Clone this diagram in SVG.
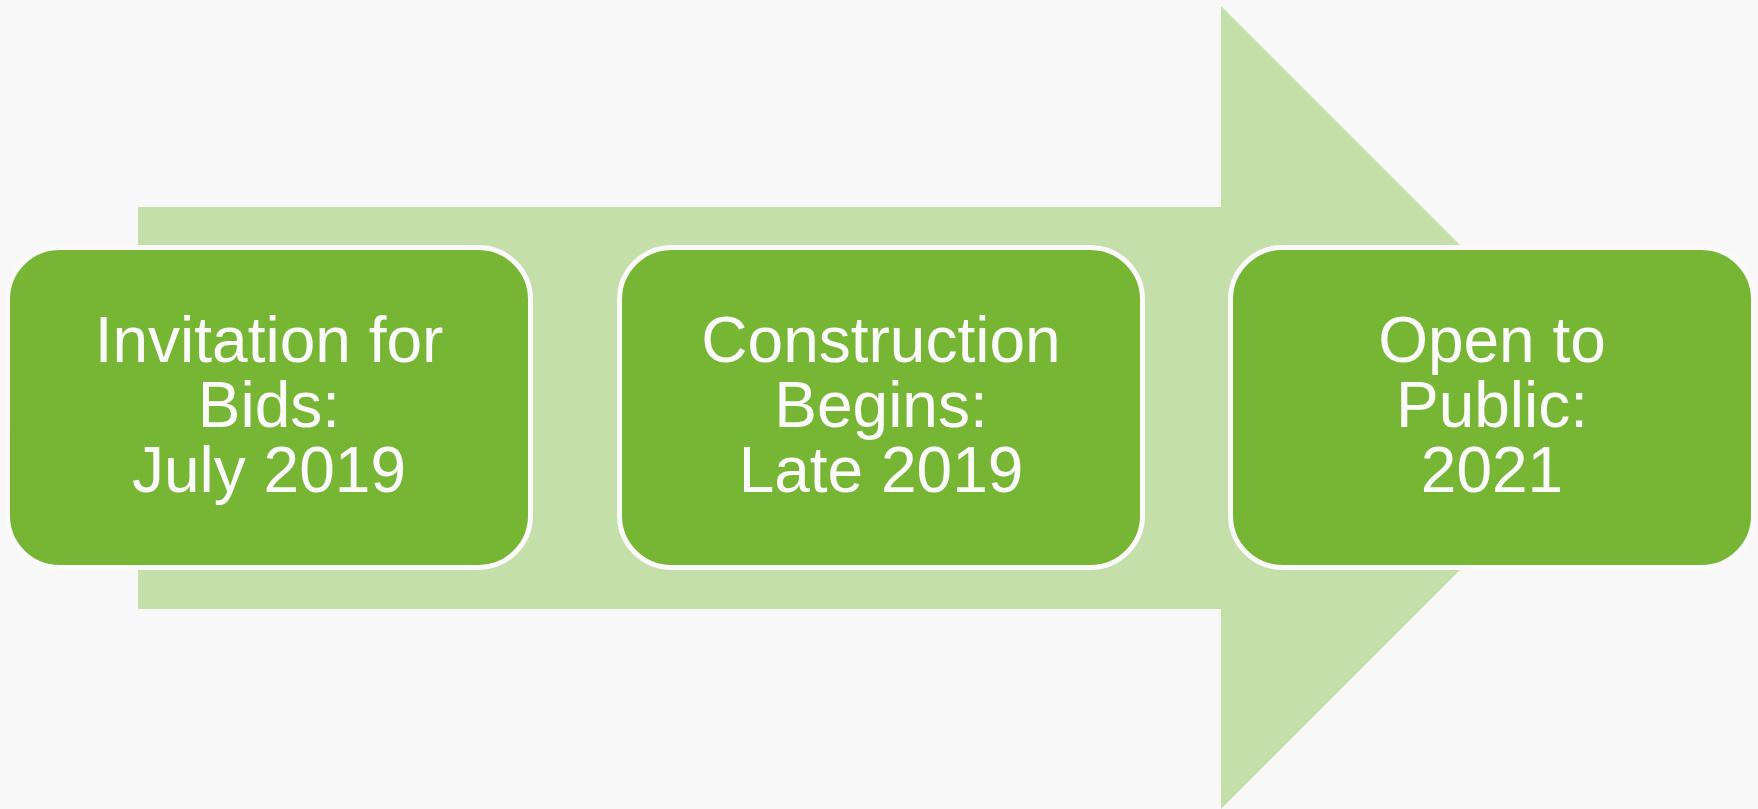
<svg xmlns="http://www.w3.org/2000/svg" width="1758" height="809" viewBox="0 0 1758 809">
<style>
.box{fill:#76b634;stroke:#fafafa;stroke-width:5}
.lbl{font-family:"Liberation Sans",Arial,sans-serif;font-size:64px;fill:#fafafa;text-anchor:middle}
</style>
<rect x="0" y="0" width="1758" height="809" fill="#f8f8f8"/>
<g id="arrow">
<polygon points="138,207 1221,207 1221,6 1622.5,407.5 1221,809 1221,609 138,609" fill="#c5dfab"/>
</g>
<g id="connectors"></g>
<g id="node1">
<rect class="box" x="7.5" y="247.5" width="523" height="320" rx="52"/>
<text class="lbl"><tspan x="269" y="362">Invitation for</tspan><tspan x="269" y="427">Bids:</tspan><tspan x="269" y="492">July 2019</tspan></text>
</g>
<g id="node2">
<rect class="box" x="619.5" y="247.5" width="523" height="320" rx="52"/>
<text class="lbl"><tspan x="881" y="362">Construction</tspan><tspan x="881" y="427">Begins:</tspan><tspan x="881" y="492">Late 2019</tspan></text>
</g>
<g id="node3">
<rect class="box" x="1230.5" y="247.5" width="523" height="320" rx="52"/>
<text class="lbl"><tspan x="1492" y="362">Open to</tspan><tspan x="1492" y="427">Public:</tspan><tspan x="1492" y="492">2021</tspan></text>
</g>
</svg>
